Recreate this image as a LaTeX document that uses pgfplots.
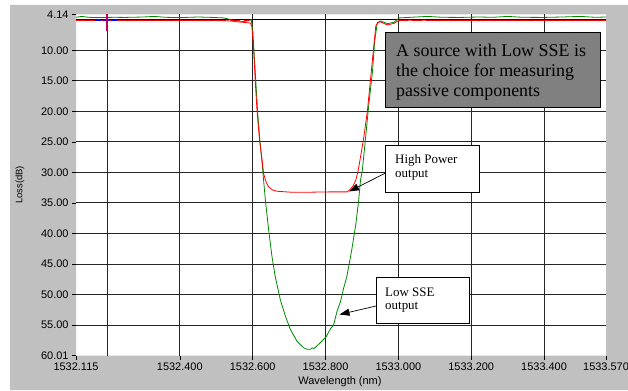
\documentclass[border=0pt]{standalone}
\usepackage{pgfplots}
\pgfplotsset{compat=1.18}
\usepackage{fontspec}
\setmainfont{Liberation Sans}
\newfontfamily\serif{Liberation Serif}
\usetikzlibrary{arrows.meta}
\definecolor{framegray}{RGB}{192,192,192}
\definecolor{boxgray}{RGB}{128,128,128}
\definecolor{trgreen}{RGB}{0,135,0}
\definecolor{cursorred}{RGB}{190,0,90}
\begin{document}
\begin{tikzpicture}[x=1bp,y=1bp]
\useasboundingbox (0,0) rectangle (628,390);
\fill[white] (0,0) rectangle (628,390);
\fill[framegray, even odd rule] (10,0) rectangle (628,385) (76,34.5) rectangle (606,375.5);
\begin{axis}[
  at={(76bp,34.5bp)}, anchor=south west,
  scale only axis, width=530bp, height=341bp,
  xmin=1532.115, xmax=1533.570, ymin=4.14, ymax=60.01,
  y dir=reverse,
  axis line style={draw=none},
  xtick={1532.115,1532.4,1532.6,1532.8,1533.0,1533.2,1533.4,1533.57},
  xticklabels={1532.115,1532.400,1532.600,1532.800,1533.000,1533.200,1533.400,1533.570},
  ytick={4.14,10,15,20,25,30,35,40,45,50,55,60.01},
  yticklabels={4.14,10.00,15.00,20.00,25.00,30.00,35.00,40.00,45.00,50.00,55.00,60.01},
  extra x ticks={1532.2,1532.4,1532.6,1532.8,1533.0,1533.2,1533.4},
  extra x tick labels={},
  extra x tick style={major tick length=0pt, grid=major},
  extra y ticks={10,15,20,25,30,35,40,45,50,55},
  extra y tick labels={},
  extra y tick style={major tick length=0pt, grid=major},
  grid=none, major grid style={black!85, line width=0.75bp},
  tick align=outside, major tick length=4bp,
  tick style={black, line width=0.6bp},
  xtick pos=bottom, ytick pos=left,
  tick label style={font=\fontsize{11}{13}\selectfont},
  xlabel={Wavelength (nm)}, ylabel={Loss(dB)},
  xlabel style={font=\fontsize{11}{13}\selectfont, at={(axis description cs:0.498,0)}, anchor=center, yshift=-26.5bp},
  ylabel style={font=\fontsize{9.5}{11}\selectfont, at={(axis description cs:-0.1057,0.5)}, anchor=center},
  clip=true,
]
% black reference line at top
\addplot[black, line width=0.9bp] coordinates {(1532.115,4.9) (1533.570,4.9)};
% Low SSE trace (green)
\addplot[trgreen, line width=0.8bp] coordinates {
(1532.115,4.6) (1532.13,4.45) (1532.15,4.6) (1532.17,4.65) (1532.22,4.6) (1532.25,4.62)
(1532.30,4.55) (1532.33,4.45) (1532.36,4.6) (1532.40,4.65) (1532.45,4.55) (1532.48,4.6)
(1532.52,4.7) (1532.55,5.1) (1532.575,5.3) (1532.59,5.1) (1532.596,5.0)
(1532.600,6.5) (1532.604,10.5) (1532.609,15.5) (1532.614,20.5) (1532.620,25.0)
(1532.626,28.5) (1532.630,31.3) (1532.635,34.6) (1532.644,39.5) (1532.653,43.8)
(1532.662,47.1) (1532.676,50.9) (1532.690,53.6) (1532.704,55.8) (1532.722,57.7)
(1532.740,58.75) (1532.750,59.0) (1532.759,59.0) (1532.763,58.75) (1532.768,58.9)
(1532.786,57.9) (1532.801,57.0) (1532.814,55.6) (1532.822,55.0) (1532.832,52.7)
(1532.841,51.2) (1532.850,48.9) (1532.858,47.2) (1532.865,45.0) (1532.872,42.7)
(1532.883,38.6) (1532.891,34.6) (1532.896,31.3) (1532.901,29.7) (1532.910,24.3)
(1532.919,18.8) (1532.929,13.4) (1532.935,8.5) (1532.942,5.5) (1532.951,5.2)
(1532.960,5.4) (1532.970,5.65) (1532.988,5.4) (1533.002,4.7) (1533.05,4.55)
(1533.08,4.45) (1533.12,4.6) (1533.17,4.62) (1533.22,4.55) (1533.26,4.6) (1533.30,4.45)
(1533.34,4.6) (1533.40,4.62) (1533.45,4.55) (1533.50,4.45) (1533.54,4.6) (1533.57,4.55)
};
% High Power trace (red)
\addplot[red, line width=0.8bp] coordinates {
(1532.115,5.1) (1532.30,5.1) (1532.50,5.12) (1532.54,5.2) (1532.56,5.35)
(1532.58,5.45) (1532.594,5.55) (1532.598,6.2) (1532.603,10.1) (1532.607,15.0)
(1532.612,19.9) (1532.619,24.8) (1532.626,28.0) (1532.630,30.2) (1532.637,31.6)
(1532.644,32.4) (1532.655,32.9) (1532.667,33.1) (1532.704,33.25) (1532.760,33.25)
(1532.814,33.2) (1532.860,33.2) (1532.869,32.7) (1532.876,32.2) (1532.883,31.3)
(1532.890,29.6) (1532.896,27.5) (1532.905,24.3) (1532.915,19.9) (1532.924,14.5)
(1532.933,9.0) (1532.938,6.0) (1532.945,5.4) (1532.951,5.35) (1532.960,5.6)
(1532.970,5.85) (1532.980,5.7) (1532.988,5.6) (1532.996,5.3) (1533.002,5.05)
(1533.10,5.1) (1533.570,5.1)
};
% dashed red overlay on flat parts
\addplot[red, line width=1.3bp, dash pattern=on 10bp off 4bp] coordinates {(1532.115,5.1) (1532.59,5.1)};
\addplot[red, line width=1.3bp, dash pattern=on 10bp off 4bp] coordinates {(1533.0,5.1) (1533.570,5.1)};
% cursor
\addplot[blue, line width=1.3bp, dash pattern=on 6bp off 2bp] coordinates {(1532.168,5.05) (1532.232,5.05)};
\addplot[cursorred, line width=1.8bp] coordinates {(1532.200,4.14) (1532.200,6.8)};
\end{axis}
% annotation: big gray box
\draw[fill=boxgray, line width=0.8bp] (385,282.3) rectangle (600.7,357.3);
\node[anchor=base west, inner sep=0pt, font=\serif\fontsize{18}{20}\selectfont] at (396,334) {A source with Low SSE is};
\node[anchor=base west, inner sep=0pt, font=\serif\fontsize{18}{20}\selectfont] at (396,314) {the choice for measuring};
\node[anchor=base west, inner sep=0pt, font=\serif\fontsize{18}{20}\selectfont] at (396,293.5) {passive components};
% High Power box
\draw[fill=white, line width=0.8bp] (385,197.7) rectangle (479,245);
\node[anchor=base west, inner sep=0pt, font=\serif\fontsize{13}{15}\selectfont] at (395,227) {High Power};
\node[anchor=base west, inner sep=0pt, font=\serif\fontsize{13}{15}\selectfont] at (395,213) {output};
\draw[line width=0.7bp, -{Triangle[length=10bp,width=7bp]}] (385,216.7) -- (349,198.5);
% Low SSE box
\draw[fill=white, line width=0.8bp] (376,66.7) rectangle (469.3,112.7);
\node[anchor=base west, inner sep=0pt, font=\serif\fontsize{13}{15}\selectfont] at (385,94) {Low SSE};
\node[anchor=base west, inner sep=0pt, font=\serif\fontsize{13}{15}\selectfont] at (385,80.5) {output};
\draw[line width=0.7bp, -{Triangle[length=10bp,width=7bp]}] (376,84) -- (339.5,75.5);
\end{tikzpicture}
\end{document}
